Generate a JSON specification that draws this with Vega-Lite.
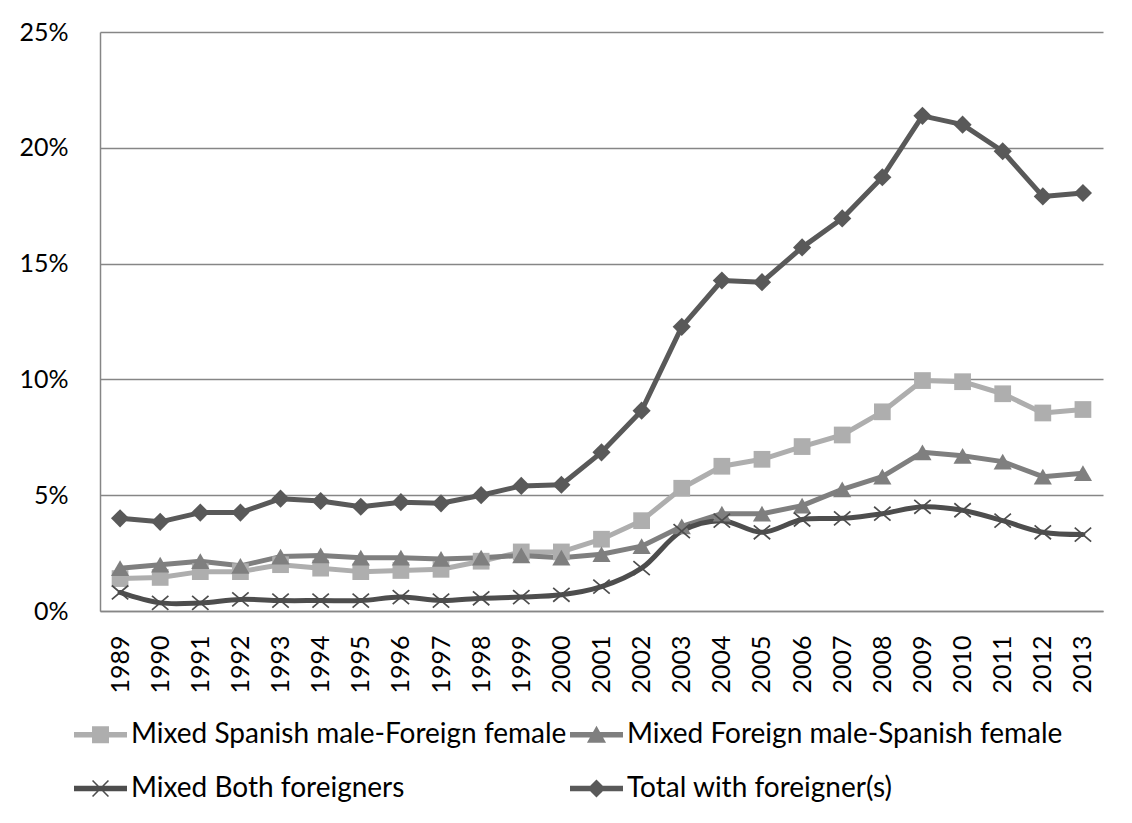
{
  "$schema": "https://vega.github.io/schema/vega-lite/v6.json",
  "autosize": {"type": "none"},
  "width": 1003,
  "height": 579,
  "padding": {"left": 100, "top": 32, "right": 29, "bottom": 212},
  "background": "white",
  "config": {
    "font": "Lato",
    "view": {"stroke": null},
    "axis": {"labelFont": "Lato", "labelFontSize": 25, "labelColor": "#000000"},
    "legend": {"labelFont": "Lato", "labelFontSize": 28, "labelColor": "#000000"}
  },
  "data": {
    "values": [
      {"year": "1989", "series": "Mixed Spanish male-Foreign female", "value": 1.4},
      {"year": "1990", "series": "Mixed Spanish male-Foreign female", "value": 1.45},
      {"year": "1991", "series": "Mixed Spanish male-Foreign female", "value": 1.7},
      {"year": "1992", "series": "Mixed Spanish male-Foreign female", "value": 1.7},
      {"year": "1993", "series": "Mixed Spanish male-Foreign female", "value": 2.0},
      {"year": "1994", "series": "Mixed Spanish male-Foreign female", "value": 1.85},
      {"year": "1995", "series": "Mixed Spanish male-Foreign female", "value": 1.7},
      {"year": "1996", "series": "Mixed Spanish male-Foreign female", "value": 1.75},
      {"year": "1997", "series": "Mixed Spanish male-Foreign female", "value": 1.8},
      {"year": "1998", "series": "Mixed Spanish male-Foreign female", "value": 2.15},
      {"year": "1999", "series": "Mixed Spanish male-Foreign female", "value": 2.55},
      {"year": "2000", "series": "Mixed Spanish male-Foreign female", "value": 2.55},
      {"year": "2001", "series": "Mixed Spanish male-Foreign female", "value": 3.1},
      {"year": "2002", "series": "Mixed Spanish male-Foreign female", "value": 3.9},
      {"year": "2003", "series": "Mixed Spanish male-Foreign female", "value": 5.3},
      {"year": "2004", "series": "Mixed Spanish male-Foreign female", "value": 6.25},
      {"year": "2005", "series": "Mixed Spanish male-Foreign female", "value": 6.55},
      {"year": "2006", "series": "Mixed Spanish male-Foreign female", "value": 7.1},
      {"year": "2007", "series": "Mixed Spanish male-Foreign female", "value": 7.6},
      {"year": "2008", "series": "Mixed Spanish male-Foreign female", "value": 8.6},
      {"year": "2009", "series": "Mixed Spanish male-Foreign female", "value": 9.95},
      {"year": "2010", "series": "Mixed Spanish male-Foreign female", "value": 9.9},
      {"year": "2011", "series": "Mixed Spanish male-Foreign female", "value": 9.38},
      {"year": "2012", "series": "Mixed Spanish male-Foreign female", "value": 8.55},
      {"year": "2013", "series": "Mixed Spanish male-Foreign female", "value": 8.7},
      {"year": "1989", "series": "Mixed Foreign male-Spanish female", "value": 1.85},
      {"year": "1990", "series": "Mixed Foreign male-Spanish female", "value": 2.0},
      {"year": "1991", "series": "Mixed Foreign male-Spanish female", "value": 2.15},
      {"year": "1992", "series": "Mixed Foreign male-Spanish female", "value": 1.95},
      {"year": "1993", "series": "Mixed Foreign male-Spanish female", "value": 2.35},
      {"year": "1994", "series": "Mixed Foreign male-Spanish female", "value": 2.4},
      {"year": "1995", "series": "Mixed Foreign male-Spanish female", "value": 2.3},
      {"year": "1996", "series": "Mixed Foreign male-Spanish female", "value": 2.3},
      {"year": "1997", "series": "Mixed Foreign male-Spanish female", "value": 2.25},
      {"year": "1998", "series": "Mixed Foreign male-Spanish female", "value": 2.3},
      {"year": "1999", "series": "Mixed Foreign male-Spanish female", "value": 2.4},
      {"year": "2000", "series": "Mixed Foreign male-Spanish female", "value": 2.3},
      {"year": "2001", "series": "Mixed Foreign male-Spanish female", "value": 2.45},
      {"year": "2002", "series": "Mixed Foreign male-Spanish female", "value": 2.8},
      {"year": "2003", "series": "Mixed Foreign male-Spanish female", "value": 3.65},
      {"year": "2004", "series": "Mixed Foreign male-Spanish female", "value": 4.2},
      {"year": "2005", "series": "Mixed Foreign male-Spanish female", "value": 4.2},
      {"year": "2006", "series": "Mixed Foreign male-Spanish female", "value": 4.55},
      {"year": "2007", "series": "Mixed Foreign male-Spanish female", "value": 5.25},
      {"year": "2008", "series": "Mixed Foreign male-Spanish female", "value": 5.8},
      {"year": "2009", "series": "Mixed Foreign male-Spanish female", "value": 6.85},
      {"year": "2010", "series": "Mixed Foreign male-Spanish female", "value": 6.7},
      {"year": "2011", "series": "Mixed Foreign male-Spanish female", "value": 6.45},
      {"year": "2012", "series": "Mixed Foreign male-Spanish female", "value": 5.8},
      {"year": "2013", "series": "Mixed Foreign male-Spanish female", "value": 5.95},
      {"year": "1989", "series": "Mixed Both foreigners", "value": 0.8},
      {"year": "1990", "series": "Mixed Both foreigners", "value": 0.35},
      {"year": "1991", "series": "Mixed Both foreigners", "value": 0.35},
      {"year": "1992", "series": "Mixed Both foreigners", "value": 0.5},
      {"year": "1993", "series": "Mixed Both foreigners", "value": 0.45},
      {"year": "1994", "series": "Mixed Both foreigners", "value": 0.45},
      {"year": "1995", "series": "Mixed Both foreigners", "value": 0.45},
      {"year": "1996", "series": "Mixed Both foreigners", "value": 0.6},
      {"year": "1997", "series": "Mixed Both foreigners", "value": 0.45},
      {"year": "1998", "series": "Mixed Both foreigners", "value": 0.55},
      {"year": "1999", "series": "Mixed Both foreigners", "value": 0.6},
      {"year": "2000", "series": "Mixed Both foreigners", "value": 0.7},
      {"year": "2001", "series": "Mixed Both foreigners", "value": 1.05},
      {"year": "2002", "series": "Mixed Both foreigners", "value": 1.85},
      {"year": "2003", "series": "Mixed Both foreigners", "value": 3.45},
      {"year": "2004", "series": "Mixed Both foreigners", "value": 3.9},
      {"year": "2005", "series": "Mixed Both foreigners", "value": 3.4},
      {"year": "2006", "series": "Mixed Both foreigners", "value": 3.95},
      {"year": "2007", "series": "Mixed Both foreigners", "value": 4.0},
      {"year": "2008", "series": "Mixed Both foreigners", "value": 4.2},
      {"year": "2009", "series": "Mixed Both foreigners", "value": 4.5},
      {"year": "2010", "series": "Mixed Both foreigners", "value": 4.35},
      {"year": "2011", "series": "Mixed Both foreigners", "value": 3.9},
      {"year": "2012", "series": "Mixed Both foreigners", "value": 3.4},
      {"year": "2013", "series": "Mixed Both foreigners", "value": 3.3},
      {"year": "1989", "series": "Total with foreigner(s)", "value": 4.0},
      {"year": "1990", "series": "Total with foreigner(s)", "value": 3.85},
      {"year": "1991", "series": "Total with foreigner(s)", "value": 4.25},
      {"year": "1992", "series": "Total with foreigner(s)", "value": 4.25},
      {"year": "1993", "series": "Total with foreigner(s)", "value": 4.85},
      {"year": "1994", "series": "Total with foreigner(s)", "value": 4.75},
      {"year": "1995", "series": "Total with foreigner(s)", "value": 4.5},
      {"year": "1996", "series": "Total with foreigner(s)", "value": 4.7},
      {"year": "1997", "series": "Total with foreigner(s)", "value": 4.65},
      {"year": "1998", "series": "Total with foreigner(s)", "value": 5.0},
      {"year": "1999", "series": "Total with foreigner(s)", "value": 5.4},
      {"year": "2000", "series": "Total with foreigner(s)", "value": 5.45},
      {"year": "2001", "series": "Total with foreigner(s)", "value": 6.85},
      {"year": "2002", "series": "Total with foreigner(s)", "value": 8.65},
      {"year": "2003", "series": "Total with foreigner(s)", "value": 12.27},
      {"year": "2004", "series": "Total with foreigner(s)", "value": 14.27},
      {"year": "2005", "series": "Total with foreigner(s)", "value": 14.2},
      {"year": "2006", "series": "Total with foreigner(s)", "value": 15.7},
      {"year": "2007", "series": "Total with foreigner(s)", "value": 16.95},
      {"year": "2008", "series": "Total with foreigner(s)", "value": 18.73},
      {"year": "2009", "series": "Total with foreigner(s)", "value": 21.38},
      {"year": "2010", "series": "Total with foreigner(s)", "value": 21.0},
      {"year": "2011", "series": "Total with foreigner(s)", "value": 19.85},
      {"year": "2012", "series": "Total with foreigner(s)", "value": 17.9},
      {"year": "2013", "series": "Total with foreigner(s)", "value": 18.05}
    ]
  },
  "encoding": {
    "x": {
      "field": "year", "type": "ordinal",
      "scale": {"type": "point", "padding": 0.5},
      "axis": {"title": null, "labelAngle": -90, "labelPadding": 24, "ticks": false, "domain": true, "domainColor": "#868686", "domainWidth": 1.5, "grid": false}
    },
    "y": {
      "field": "value", "type": "quantitative",
      "scale": {"domain": [0, 25], "nice": false, "zero": true},
      "axis": {"title": null, "values": [0, 5, 10, 15, 20, 25], "labelExpr": "datum.value + '%'", "labelPadding": 32, "ticks": false, "domain": true, "domainColor": "#868686", "domainWidth": 1.5, "grid": true, "gridColor": "#868686", "gridWidth": 1.5}
    },
    "color": {
      "field": "series", "type": "nominal",
      "scale": {
        "domain": ["Mixed Spanish male-Foreign female", "Mixed Foreign male-Spanish female", "Mixed Both foreigners", "Total with foreigner(s)"],
        "range": ["#AEAEAE", "#7F7F7F", "#4D4D4D", "#595959"]
      },
      "legend": {
        "title": null,
        "orient": "none",
        "legendX": -26,
        "legendY": 676,
        "direction": "horizontal",
        "columns": 2,
        "columnPadding": 3,
        "rowPadding": 13,
        "padding": 0,
        "symbolSize": 2809,
        "symbolStrokeWidth": 0,
        "labelOffset": 4,
        "labelLimit": 800,
        "encode": {
          "symbols": {
            "update": {
              "fill": {"signal": "scale('color', datum.value)"},
              "fillOpacity": {"value": 1},
              "opacity": {"value": 1},
              "strokeWidth": {"value": 0},
              "size": {"value": 2809}
            }
          }
        }
      }
    }
  },
  "layer": [
    {
      "transform": [{"filter": "datum.series !== 'Mixed Both foreigners'"}],
      "mark": {"type": "line", "strokeWidth": 5, "strokeJoin": "round", "strokeCap": "round"}
    },
    {
      "transform": [{"filter": "datum.series === 'Mixed Both foreigners'"}],
      "mark": {"type": "line", "strokeWidth": 5, "strokeJoin": "round", "strokeCap": "round", "interpolate": "catmull-rom"}
    },
    {
      "transform": [{"filter": "datum.series === 'Mixed Spanish male-Foreign female'"}],
      "mark": {"type": "point", "shape": "square", "filled": true, "size": 280, "opacity": 1}
    },
    {
      "transform": [{"filter": "datum.series === 'Mixed Foreign male-Spanish female'"}],
      "mark": {"type": "point", "shape": "triangle-up", "filled": true, "size": 330, "opacity": 1}
    },
    {
      "transform": [{"filter": "datum.series === 'Mixed Both foreigners'"}],
      "mark": {"type": "point", "shape": "M-1,-0.85L1,0.85M-1,0.85L1,-0.85", "filled": false, "size": 270, "opacity": 1, "strokeWidth": 1.7}
    },
    {
      "transform": [{"filter": "datum.series === 'Total with foreigner(s)'"}],
      "mark": {"type": "point", "shape": "diamond", "filled": true, "size": 330, "opacity": 1}
    },
    {
      "transform": [{"filter": "false"}],
      "mark": {"type": "point", "filled": true, "opacity": 1, "strokeWidth": 0},
      "encoding": {
        "shape": {
          "field": "series", "type": "nominal",
          "scale": {
            "domain": ["Mixed Spanish male-Foreign female", "Mixed Foreign male-Spanish female", "Mixed Both foreigners", "Total with foreigner(s)"],
            "range": [
              "M-1,-0.1H1V0.1H-1Z M-0.32,-0.32H0.32V0.32H-0.32Z",
              "M-1,-0.1H1V0.1H-1Z M0,-0.34L0.36,0.3H-0.36Z",
              "M-1,-0.1H1V0.1H-1Z M-0.279,-0.321L0.321,0.279L0.279,0.321L-0.321,-0.279Z M-0.321,0.279L0.279,-0.321L0.321,-0.279L-0.279,0.321Z",
              "M-1,-0.1H1V0.1H-1Z M0,-0.34L0.34,0L0,0.34L-0.34,0Z"
            ]
          }
        }
      }
    }
  ]
}
